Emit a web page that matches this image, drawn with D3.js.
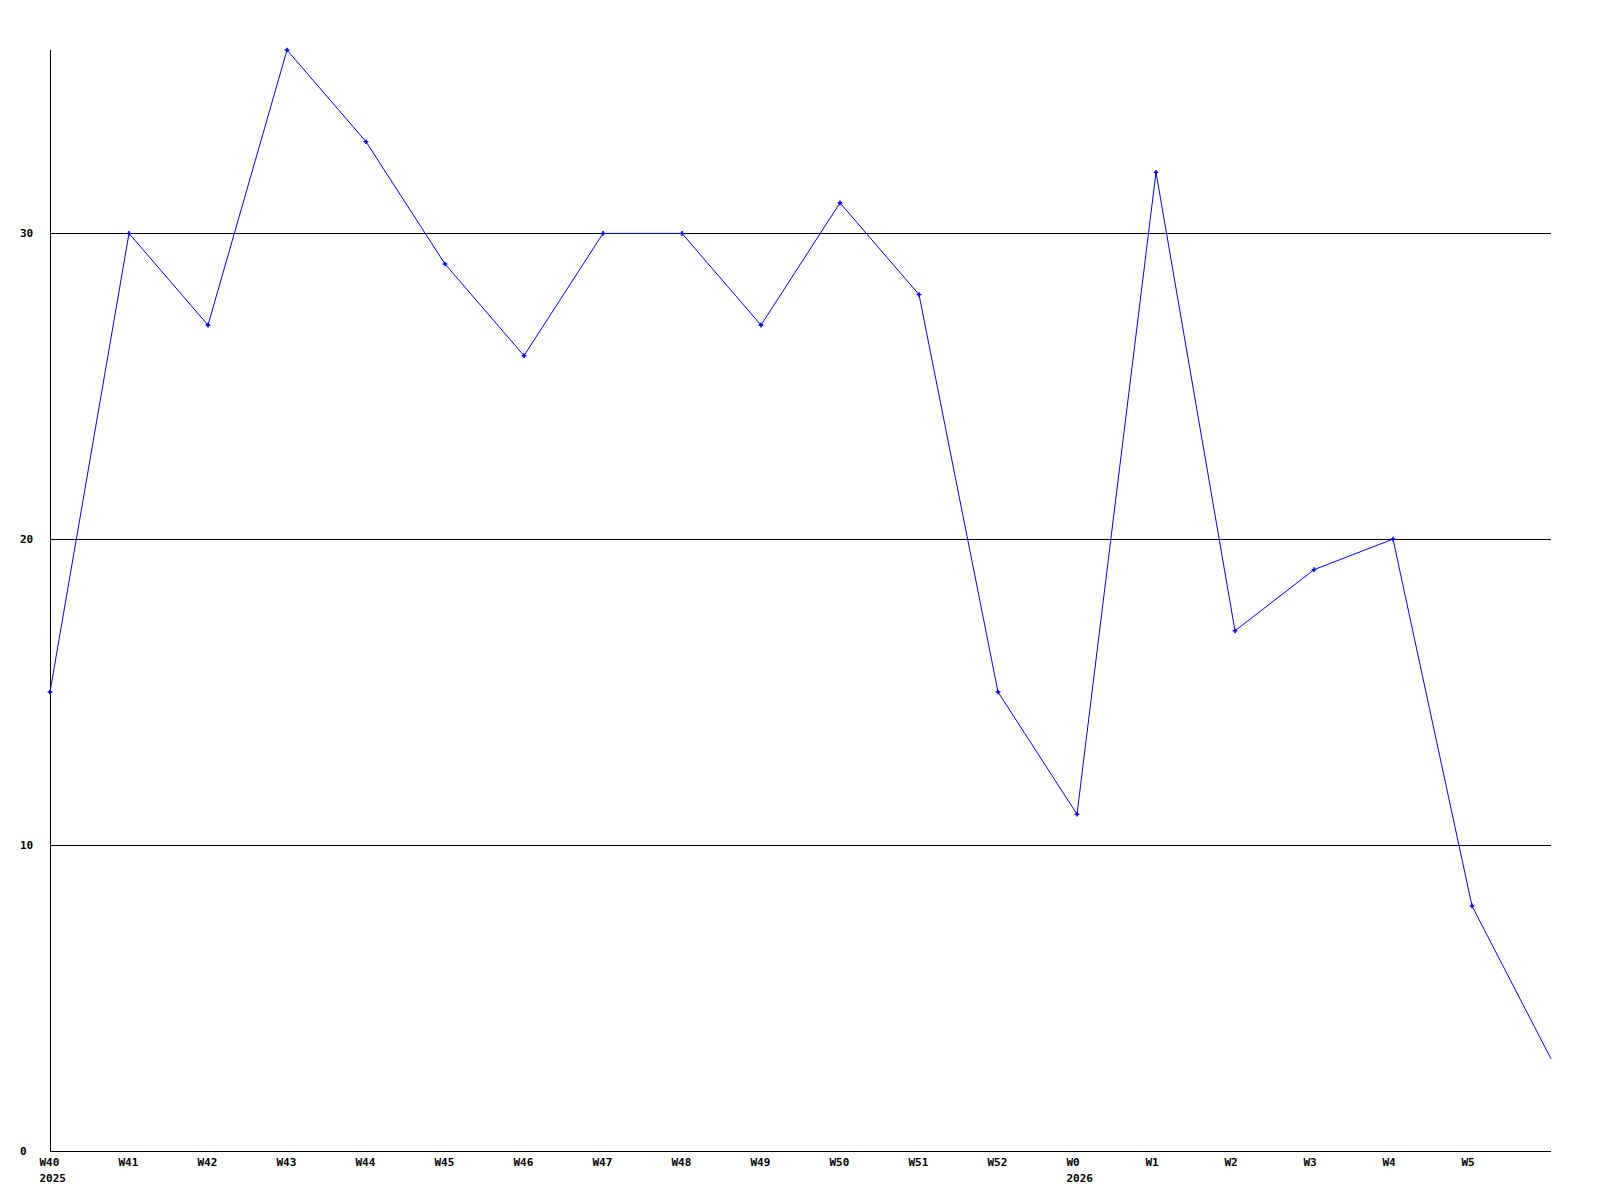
<!DOCTYPE html>
<html><head><meta charset="utf-8">
<script src="https://cdn.jsdelivr.net/npm/d3@7"></script>
<style>body{margin:0;background:#fff}svg{display:block}</style>
</head><body>
<script>
const weeks = ["W40","W41","W42","W43","W44","W45","W46","W47","W48","W49","W50","W51","W52","W0","W1","W2","W3","W4","W5",""];
const years = ["2025","","","","","","","","","","","","","2026","","","","","",""];
const values = [15,30,27,36,33,29,26,30,30,27,31,28,15,11,32,17,19,20,8,3];
const yTicks = [0,10,20,30];

const W = 1600, H = 1200;
const svg = d3.select("body").append("svg").attr("width", W).attr("height", H);
const x = d3.scalePoint().domain(d3.range(values.length)).range([50, 1551]);
const y = d3.scaleLinear().domain([0, 36]).range([1150.5, 50]);
const font = "'DejaVu Sans Mono', monospace";

// grid lines
svg.append("g").selectAll("line").data(yTicks.filter(d => d > 0)).join("line")
  .attr("x1", 50).attr("x2", 1551)
  .attr("y1", d => Math.round(y(d)) + 0.5).attr("y2", d => Math.round(y(d)) + 0.5)
  .attr("stroke", "#000").attr("stroke-width", 1).attr("shape-rendering", "crispEdges");

// axes lines
svg.append("line").attr("x1", 50.5).attr("x2", 50.5).attr("y1", 50).attr("y2", Math.round(y(0)) + 1)
  .attr("stroke", "#000").attr("shape-rendering", "crispEdges");
svg.append("line").attr("x1", 50).attr("x2", 1551).attr("y1", Math.round(y(0)) + 0.5).attr("y2", Math.round(y(0)) + 0.5)
  .attr("stroke", "#000").attr("shape-rendering", "crispEdges");

// y labels
svg.append("g").selectAll("text").data(yTicks).join("text")
  .attr("x", 20).attr("y", d => Math.round(y(d)) + 4)
  .attr("font-family", font).attr("font-weight", "bold").attr("font-size", 11)
  .text(d => d);

// x labels
svg.append("g").selectAll("text").data(weeks.map((w, i) => ({w, i}))).join("text")
  .attr("x", d => x(d.i) - 10.5).attr("y", 1166)
  .attr("text-anchor", "start")
  .attr("font-family", font).attr("font-weight", "bold").attr("font-size", 11)
  .text(d => d.w);
svg.append("g").selectAll("text").data(years.map((w, i) => ({w, i})).filter(d => d.w)).join("text")
  .attr("x", d => x(d.i) - 10.5).attr("y", 1182)
  .attr("text-anchor", "start")
  .attr("font-family", font).attr("font-weight", "bold").attr("font-size", 11)
  .text(d => d.w);

// line
const line = d3.line().x((d, i) => x(i)).y(d => y(d));
svg.append("path").datum(values).attr("d", line)
  .attr("fill", "none").attr("stroke", "#0000ff").attr("stroke-width", 1);

// markers
svg.append("g").selectAll("path").data(values.slice(0, values.length - 1)).join("path")
  .attr("transform", (d, i) => `translate(${x(i)},${y(d)})`)
  .attr("d", d3.symbol(d3.symbolCross, 12))
  .attr("fill", "#0000ff");
</script>
</body></html>
